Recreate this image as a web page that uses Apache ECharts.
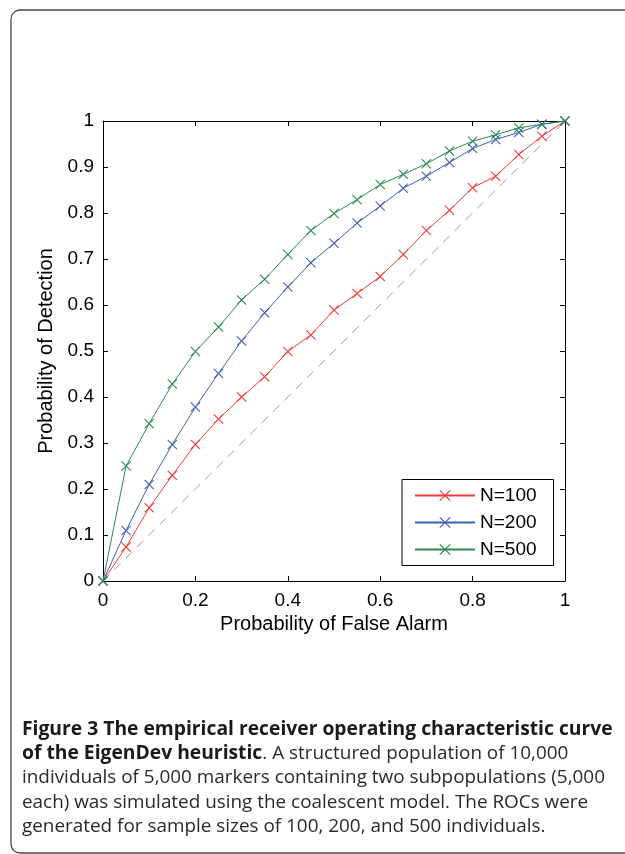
<!DOCTYPE html>
<html>
<head>
<meta charset="utf-8">
<script src="https://cdn.jsdelivr.net/npm/echarts@6/dist/echarts.min.js"></script>
<style>
  html, body { margin: 0; padding: 0; background: #fff; }
  #chart { width: 625px; height: 854px; }
</style>
</head>
<body>
<div id="chart"></div>
<script>
// ---- data ----
const falseAlarm = [0, 0.05, 0.1, 0.15, 0.2, 0.25, 0.3, 0.35, 0.4, 0.45, 0.5, 0.55, 0.6, 0.65, 0.7, 0.75, 0.8, 0.85, 0.9, 0.95, 1];
const detN100 = [0, 0.074, 0.159, 0.23, 0.297, 0.352, 0.40, 0.444, 0.499, 0.535, 0.589, 0.625, 0.662, 0.71, 0.762, 0.806, 0.855, 0.88, 0.927, 0.967, 1];
const detN200 = [0, 0.11, 0.21, 0.297, 0.378, 0.451, 0.522, 0.583, 0.639, 0.692, 0.734, 0.778, 0.815, 0.854, 0.88, 0.91, 0.94, 0.96, 0.975, 0.993, 1];
const detN500 = [0, 0.25, 0.342, 0.428, 0.499, 0.552, 0.611, 0.656, 0.71, 0.762, 0.799, 0.829, 0.862, 0.884, 0.907, 0.935, 0.956, 0.97, 0.985, 0.993, 1];
const chanceLine = [[0, 0], [1, 1]];
const seriesNames = ['N=100', 'N=200', 'N=500'];
const xAxisName = 'Probability of False Alarm';
const yAxisName = 'Probability of Detection';
const captionLines = [
  { bold: 'Figure 3 The empirical receiver operating characteristic curve', normal: '' },
  { bold: 'of the EigenDev heuristic', normal: '. A structured population of 10,000' },
  { bold: '', normal: 'individuals of 5,000 markers containing two subpopulations (5,000' },
  { bold: '', normal: 'each) was simulated using the coalescent model. The ROCs were' },
  { bold: '', normal: 'generated for sample sizes of 100, 200, and 500 individuals.' }
];

// ---- styling ----
const colors = ['#f23a3a', '#3f5fb5', '#2b8a4f'];
const crossPath = 'path://M0,0.75L0.75,0L10,9.25L9.25,10Z M9.25,0L10,0.75L0.75,10L0,9.25Z';
const FONT = '"Liberation Sans", Arial, Helvetica, sans-serif';
const CAP_FONT = '"Open Sans", "Noto Sans", sans-serif';

function pairs(ys) { return falseAlarm.map((x, i) => [x, ys[i]]); }

const chart = echarts.init(document.getElementById('chart'), null, { renderer: 'canvas' });

const grid = { left: 103, top: 121, width: 462, height: 460 };

function rocSeries(name, ys, color) {
  return {
    name: name,
    type: 'line',
    data: pairs(ys),
    xAxisIndex: 0,
    yAxisIndex: 0,
    symbol: crossPath,
    symbolSize: 10,
    showSymbol: true,
    clip: false,
    lineStyle: { color: color, width: 1 },
    itemStyle: { color: color },
    emphasis: { disabled: true },
    animation: false
  };
}

const captionGraphics = captionLines.map((ln, i) => {
  let txt;
  if (ln.bold && ln.normal) txt = '{b|' + ln.bold + '}{n|' + ln.normal + '}';
  else if (ln.bold) txt = '{b|' + ln.bold + '}';
  else txt = '{n|' + ln.normal + '}';
  return {
    type: 'text',
    left: 22,
    top: 720 + i * 24.3,
    style: {
      text: txt,
      rich: {
        b: { fontFamily: CAP_FONT, fontWeight: 'bold', fontSize: 19.3, lineHeight: 23, fill: '#1a1a1a' },
        n: { fontFamily: CAP_FONT, fontWeight: 'normal', fontSize: 18.9, lineHeight: 23, fill: '#2a2a2a' }
      }
    }
  };
});

const option = {
  backgroundColor: '#ffffff',
  animation: false,
  grid: grid,
  legend: {
    data: seriesNames,
    orient: 'vertical',
    left: 402,
    top: 479.5,
    padding: [6, 17, 6, 12],
    itemGap: 7,
    itemWidth: 60,
    itemHeight: 14,
    borderColor: '#000',
    borderWidth: 1,
    backgroundColor: '#fff',
    selectedMode: false,
    textStyle: { fontFamily: FONT, fontSize: 19, color: '#000', lineHeight: 20 }
  },
  xAxis: [
    {
      type: 'value', min: 0, max: 1, interval: 0.2,
      name: xAxisName, nameLocation: 'middle', nameGap: 32,
      nameTextStyle: { fontFamily: FONT, fontSize: 20, color: '#000' },
      axisLine: { show: true, onZero: false, lineStyle: { color: '#000', width: 1 } },
      axisTick: { show: true, inside: true, length: 5, lineStyle: { color: '#000' } },
      axisLabel: { fontFamily: FONT, fontSize: 19, color: '#000', margin: 10 },
      splitLine: { show: false }
    },
    {
      type: 'value', min: 0, max: 1, interval: 0.2, position: 'top',
      axisLine: { show: true, onZero: false, lineStyle: { color: '#000', width: 1 } },
      axisTick: { show: true, inside: true, length: 5, lineStyle: { color: '#000' } },
      axisLabel: { show: false },
      splitLine: { show: false }
    }
  ],
  yAxis: [
    {
      type: 'value', min: 0, max: 1, interval: 0.1,
      name: yAxisName, nameLocation: 'middle', nameGap: 42,
      nameTextStyle: { fontFamily: FONT, fontSize: 20, color: '#000' },
      axisLine: { show: true, onZero: false, lineStyle: { color: '#000', width: 1 } },
      axisTick: { show: true, inside: true, length: 5, lineStyle: { color: '#000' } },
      axisLabel: { fontFamily: FONT, fontSize: 19, color: '#000', margin: 9 },
      splitLine: { show: false }
    },
    {
      type: 'value', min: 0, max: 1, interval: 0.1, position: 'right',
      axisLine: { show: true, onZero: false, lineStyle: { color: '#000', width: 1 } },
      axisTick: { show: true, inside: true, length: 5, lineStyle: { color: '#000' } },
      axisLabel: { show: false },
      splitLine: { show: false }
    }
  ],
  series: [
    {
      name: 'chance',
      type: 'line',
      data: chanceLine,
      symbol: 'none',
      clip: false,
      lineStyle: { color: '#9a9a9a', width: 1, type: [9, 7] },
      emphasis: { disabled: true },
      z: 1
    },
    rocSeries(seriesNames[0], detN100, colors[0]),
    rocSeries(seriesNames[1], detN200, colors[1]),
    rocSeries(seriesNames[2], detN500, colors[2])
  ],
  graphic: [
    {
      type: 'rect',
      left: 8.5, top: 7.5,
      shape: { x: 0, y: 0, width: 700, height: 843, r: 9 },
      style: { fill: 'none', stroke: '#4a4a4a', lineWidth: 1.3 },
      z: -10
    }
  ].concat(captionGraphics)
};

chart.setOption(option);
</script>
</body>
</html>
